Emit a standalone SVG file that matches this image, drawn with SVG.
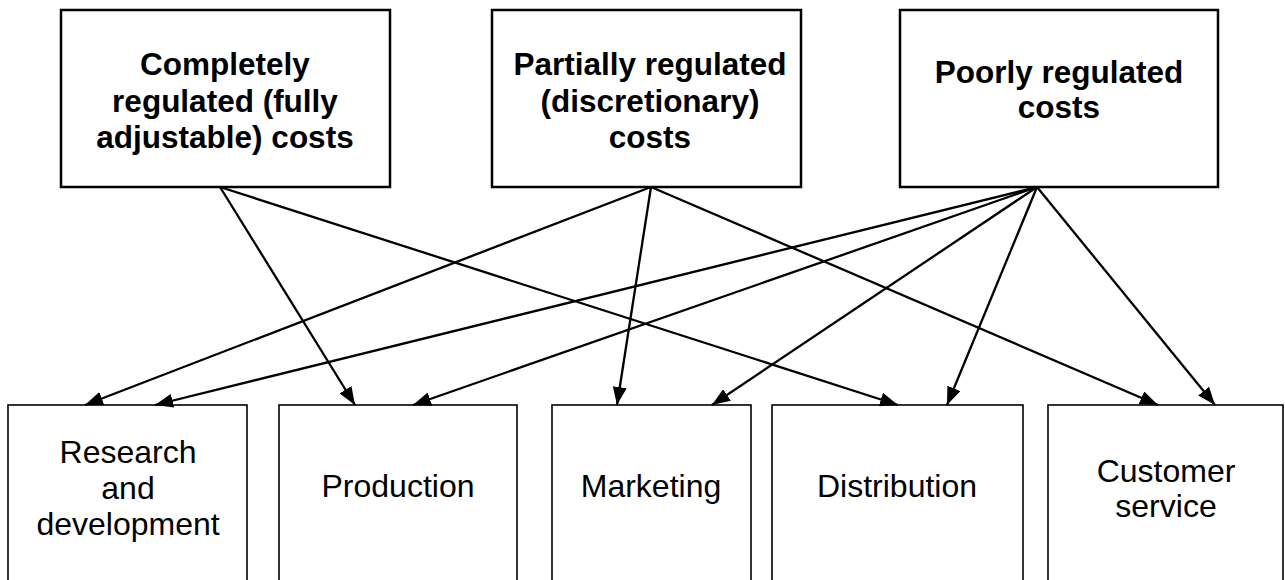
<svg xmlns="http://www.w3.org/2000/svg" width="1285" height="580" viewBox="0 0 1285 580">
  <style>
    .cost rect { fill: #fff; stroke: #000; stroke-width: 2.5; }
    .area rect { fill: #fff; stroke: #000; stroke-width: 1.6; }
    .cost text { font-family: "Liberation Sans", Arial, sans-serif; font-size: 31.5px; font-weight: bold; text-anchor: middle; fill: #000; }
    .area text { font-family: "Liberation Sans", Arial, sans-serif; font-size: 32px; text-anchor: middle; fill: #000; }
    #connectors line { stroke: #000; stroke-width: 2.3; marker-end: url(#arrow); }
  </style>
  <defs>
    <marker id="arrow" markerUnits="userSpaceOnUse" markerWidth="18" markerHeight="14" refX="18" refY="7" orient="auto">
      <path d="M0,0 L18,7 L0,14 z" fill="#000"/>
    </marker>
  </defs>
  <rect width="1285" height="580" fill="#fff"/>

  <!-- cost categories -->
  <g id="completely-regulated" class="cost">
    <rect x="61" y="10" width="329" height="177"/>
    <text x="225" y="75">Completely</text>
    <text x="225" y="112">regulated (fully</text>
    <text x="225" y="148">adjustable) costs</text>
  </g>
  <g id="partially-regulated" class="cost">
    <rect x="492" y="10" width="309" height="177"/>
    <text x="650" y="75">Partially regulated</text>
    <text x="650" y="112">(discretionary)</text>
    <text x="650" y="148">costs</text>
  </g>
  <g id="poorly-regulated" class="cost">
    <rect x="900" y="10" width="318" height="177"/>
    <text x="1059" y="83">Poorly regulated</text>
    <text x="1059" y="118">costs</text>
  </g>

  <!-- value chain functions -->
  <g id="research" class="area">
    <rect x="8" y="405" width="239" height="190"/>
    <text x="128" y="463">Research</text>
    <text x="128" y="499">and</text>
    <text x="128" y="535">development</text>
  </g>
  <g id="production" class="area">
    <rect x="279" y="405" width="238" height="190"/>
    <text x="398" y="497">Production</text>
  </g>
  <g id="marketing" class="area">
    <rect x="552" y="405" width="199" height="190"/>
    <text x="651" y="497">Marketing</text>
  </g>
  <g id="distribution" class="area">
    <rect x="772" y="405" width="251" height="190"/>
    <text x="897" y="497">Distribution</text>
  </g>
  <g id="customer-service" class="area">
    <rect x="1048" y="405" width="235" height="190"/>
    <text x="1166" y="482">Customer</text>
    <text x="1166" y="517">service</text>
  </g>

  <!-- connectors -->
  <g id="connectors">
    <line x1="220" y1="187" x2="355" y2="405"/>
    <line x1="220" y1="187" x2="898" y2="405"/>
    <line x1="651" y1="187" x2="85" y2="405"/>
    <line x1="651" y1="187" x2="617" y2="405"/>
    <line x1="651" y1="187" x2="1158" y2="405"/>
    <line x1="1037" y1="187" x2="155" y2="405"/>
    <line x1="1037" y1="187" x2="413" y2="405"/>
    <line x1="1037" y1="187" x2="712" y2="405"/>
    <line x1="1037" y1="187" x2="947" y2="405"/>
    <line x1="1037" y1="187" x2="1215" y2="405"/>
  </g>
</svg>
